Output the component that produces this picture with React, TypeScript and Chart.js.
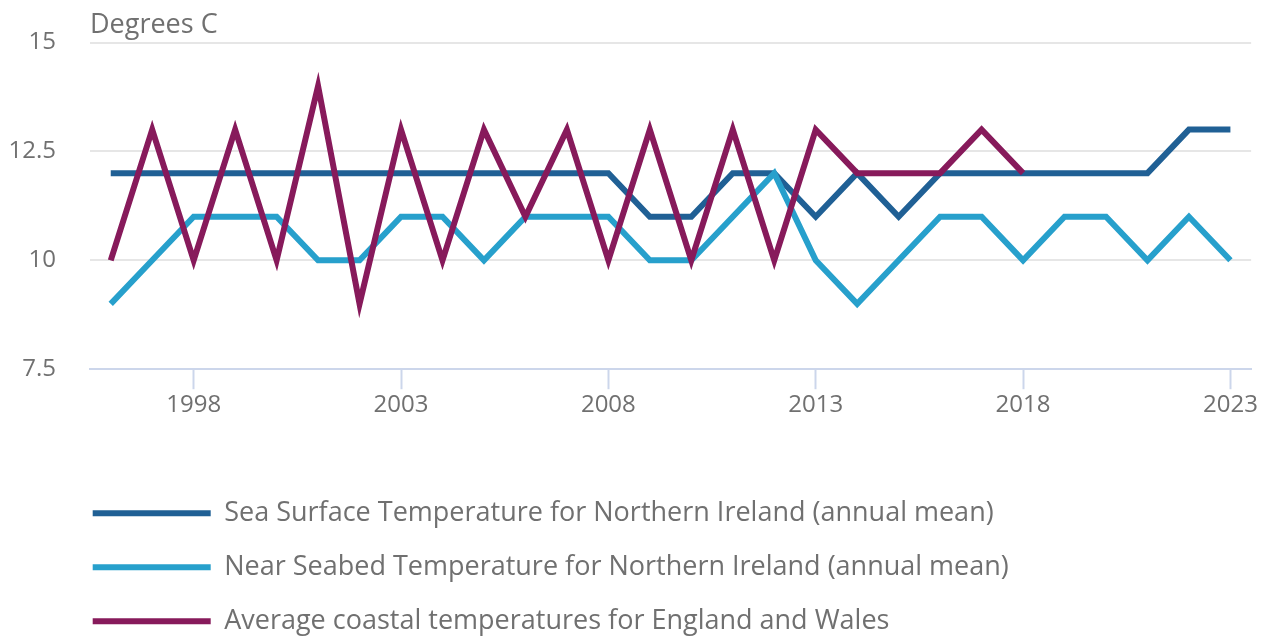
import React, { useEffect, useRef } from "react";
import { Chart, registerables } from "chart.js";

Chart.register(...registerables);

// ---- data ----
const years = [
  "1996", "1997", "1998", "1999", "2000", "2001", "2002", "2003", "2004", "2005",
  "2006", "2007", "2008", "2009", "2010", "2011", "2012", "2013", "2014", "2015",
  "2016", "2017", "2018", "2019", "2020", "2021", "2022", "2023",
];
const labeledYears = ["1998", "2003", "2008", "2013", "2018", "2023"];

const seaSurfaceNI = [
  12, 12, 12, 12, 12, 12, 12, 12, 12, 12,
  12, 12, 12, 11, 11, 12, 12, 11, 12, 11,
  12, 12, 12, 12, 12, 12, 13, 13,
];
const nearSeabedNI = [
  9, 10, 11, 11, 11, 10, 10, 11, 11, 10,
  11, 11, 11, 10, 10, 11, 12, 10, 9, 10,
  11, 11, 10, 11, 11, 10, 11, 10,
];
const coastalEW: (number | null)[] = [
  10, 13, 10, 13, 10, 14, 9, 13, 10, 13,
  11, 13, 10, 13, 10, 13, 10, 13, 12, 12,
  12, 13, 12, null, null, null, null, null,
];

const seriesNames = [
  "Sea Surface Temperature for Northern Ireland (annual mean)",
  "Near Seabed Temperature for Northern Ireland (annual mean)",
  "Average coastal temperatures for England and Wales",
];
const seriesColors = ["#206095", "#27a0cc", "#871a5b"];
const yMin = 7.5;
const yMax = 15;
const yStep = 2.5;
const unitLabel = "Degrees C";

const FONT_FAMILY = "'Open Sans', sans-serif";
const TEXT_GREY = "#707070";
const GRID_GREY = "#e6e6e6";
const AXIS_COLOR = "#ccd6eb";
const TICK_FONT_SIZE = 24;
const LEGEND_FONT_SIZE = 27;
const CLEAR = "rgba(0,0,0,0)";

const decorPlugin = {
  id: "decor",
  beforeDraw(chart: any) {
    const lg = chart.legend;
    if (lg && chart.chartArea) {
      lg.left = 57.7;
      lg.top = chart.chartArea.bottom + 103.5;
      lg.right = lg.left + lg.width;
      lg.bottom = lg.top + lg.height;
    }
  },
  afterDraw(chart: any) {
    const { ctx, chartArea } = chart;
    ctx.save();
    ctx.font = `${LEGEND_FONT_SIZE}px ${FONT_FAMILY}`;
    ctx.fillStyle = TEXT_GREY;
    ctx.textAlign = "left";
    ctx.textBaseline = "alphabetic";
    ctx.fillText(unitLabel, chartArea.left, 25);
    ctx.restore();
  },
};

export default function App() {
  const canvasRef = useRef<HTMLCanvasElement | null>(null);

  useEffect(() => {
    if (!canvasRef.current) return;
    const seriesData = [seaSurfaceNI, nearSeabedNI, coastalEW];
    const chart = new Chart(canvasRef.current, {
      type: "line",
      data: {
        labels: years,
        datasets: seriesData.map((d, i) => ({
          label: seriesNames[i],
          data: d,
          borderColor: seriesColors[i],
          backgroundColor: seriesColors[i],
          borderWidth: 6,
          pointRadius: 0,
          pointHoverRadius: 0,
          tension: 0,
          fill: false,
          spanGaps: false,
          order: 3 - i,
        })),
      },
      options: {
        animation: false,
        responsive: true,
        maintainAspectRatio: false,
        layout: { padding: { top: 34.5, right: 8, bottom: 43, left: 0 } },
        elements: {
          line: { borderCapStyle: "butt", borderJoinStyle: "miter" },
        },
        plugins: {
          title: { display: false },
          tooltip: { enabled: false },
          legend: {
            display: true,
            position: "bottom",
            align: "start",
            labels: {
              font: { family: FONT_FAMILY, size: LEGEND_FONT_SIZE },
              color: TEXT_GREY,
              boxWidth: 118,
              boxHeight: 6,
              padding: 27,
              generateLabels: (c: any) =>
                (Chart as any).defaults.plugins.legend.labels
                  .generateLabels(c)
                  .map((l: any) => ({ ...l, lineWidth: 0 }))
                  .sort((a: any, b: any) => a.datasetIndex - b.datasetIndex),
            },
          },
        },
        scales: {
          x: {
            type: "category",
            offset: true,
            border: { display: true, color: AXIS_COLOR, width: 2 },
            grid: {
              display: true,
              drawOnChartArea: false,
              drawTicks: true,
              tickLength: 20,
              tickWidth: 2,
              offset: false,
              tickColor: (ctx: any) =>
                labeledYears.includes(years[ctx.index]) ? AXIS_COLOR : CLEAR,
            },
            ticks: {
              autoSkip: false,
              maxRotation: 0,
              minRotation: 0,
              padding: 2,
              color: TEXT_GREY,
              font: { family: FONT_FAMILY, size: TICK_FONT_SIZE },
              callback: (_v: any, i: number) =>
                labeledYears.includes(years[i]) ? years[i] : "",
            },
          },
          y: {
            min: yMin,
            max: yMax,
            border: { display: false },
            grid: {
              drawTicks: true,
              tickLength: 34,
              tickColor: CLEAR,
              lineWidth: 2,
              color: (ctx: any) =>
                ctx.tick && ctx.tick.value === yMin ? CLEAR : GRID_GREY,
            },
            ticks: {
              stepSize: yStep,
              padding: 0,
              color: TEXT_GREY,
              font: { family: FONT_FAMILY, size: TICK_FONT_SIZE },
              callback: (v: any) => String(v),
            },
            afterFit: (s: any) => {
              s.width = 82;
            },
          },
        },
      } as any,
      plugins: [decorPlugin],
    });
    return () => chart.destroy();
  }, []);

  return (
    <div style={{ position: "fixed", left: 8, top: 8, width: 1252, height: 629 }}>
      <canvas ref={canvasRef} />
    </div>
  );
}
